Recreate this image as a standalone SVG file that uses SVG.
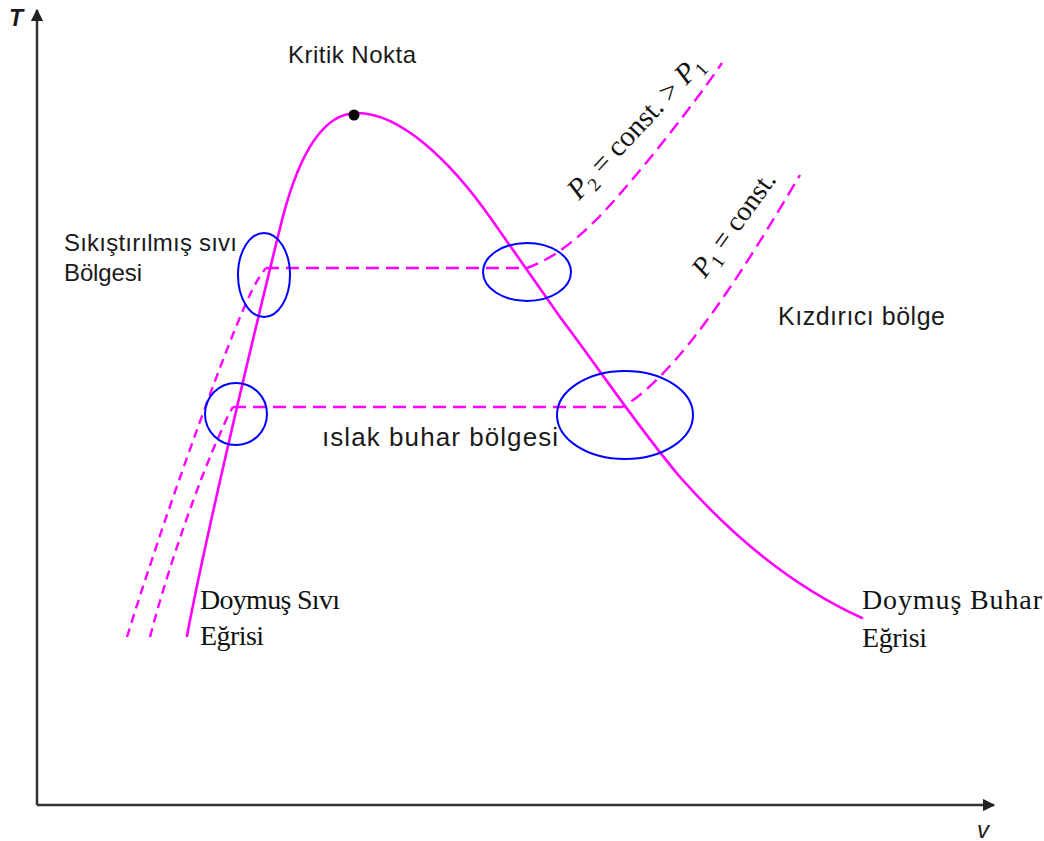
<svg xmlns="http://www.w3.org/2000/svg" width="1044" height="841" viewBox="0 0 1044 841">
<style>
.axis{stroke:#333;stroke-width:2.5;fill:none}
.sat{stroke:#FF00FF;stroke-width:2.6;fill:none;stroke-linecap:round}
.iso{stroke:#FF00FF;stroke-width:2.4;fill:none;stroke-dasharray:13 7}
.isoL{stroke:#FF00FF;stroke-width:2.4;fill:none;stroke-dasharray:9 6}
.ell{stroke:#0000FF;stroke-width:2;fill:none}
.sans{font-family:"Liberation Sans",Arial,sans-serif;fill:#1a1a1a}
.serif{font-family:"Liberation Serif","Times New Roman",serif;fill:#111}
</style>
<defs>
<marker id="arr" viewBox="0 0 10 10" refX="9" refY="5" markerWidth="5" markerHeight="5" orient="auto-start-reverse" markerUnits="strokeWidth">
<path d="M0,0 L10,5 L0,10 z" fill="#222"/>
</marker>
</defs>
<rect width="1044" height="841" fill="#fff"/>
<g id="axes">
<path class="axis" d="M37,805 L37,10" marker-end="url(#arr)"/>
<path class="axis" d="M37,805 L994,805" marker-end="url(#arr)"/>
<text class="sans" x="9" y="26" font-size="23" font-style="italic" font-weight="bold" fill="#444">T</text>
<text class="sans" x="977" y="838" font-size="24" font-style="italic" fill="#555">v</text>
</g>
<g id="connectors">
<path id="saturation-dome" class="sat" d="M187,636 C203,550 245,370 282,220 C300,150 325,113 357,113 C400,113 450,160 492,220 L560,317 C600,370 640,430 680,477 C740,545 800,590 862,618"/>
<path id="p2-liquid" class="isoL" d="M127,637 C160,530 212,385 238,322 C248,298 256,280 266,268"/>
<path id="p2-iso" class="iso" d="M266,268 L527,268 C555,258 578,238 598,218 C630,185 690,110 722,63"/>
<path id="p1-liquid" class="isoL" d="M150,637 C170,560 200,480 215,445 C222,430 227,416 233,407"/>
<path id="p1-iso" class="iso" d="M233,407 L622,407 C645,395 672,365 692,340 C735,285 770,225 800,175"/>
</g>
<g id="critical-point">
<circle cx="354" cy="115" r="5.5" fill="#000"/>
<text class="sans" x="288" y="63" font-size="24" textLength="128">Kritik Nokta</text>
</g>
<g id="ellipse-1"><ellipse class="ell" cx="264" cy="275" rx="26" ry="42"/></g>
<g id="ellipse-2"><ellipse class="ell" cx="236" cy="414" rx="31" ry="31"/></g>
<g id="ellipse-3"><ellipse class="ell" cx="527" cy="272" rx="44" ry="29"/></g>
<g id="ellipse-4"><ellipse class="ell" cx="625" cy="415" rx="68" ry="44"/></g>
<g id="label-compressed">
<text class="sans" x="64" y="251" font-size="24" textLength="173">Sıkıştırılmış sıvı</text>
<text class="sans" x="64" y="281" font-size="24" textLength="78">Bölgesi</text>
</g>
<g id="label-superheated">
<text class="sans" x="778" y="325" font-size="25" textLength="167">Kızdırıcı bölge</text>
</g>
<g id="label-wet">
<text class="sans" x="322" y="446" font-size="26" textLength="236">ıslak buhar bölgesi</text>
</g>
<g id="label-sat-liquid">
<text class="serif" x="200" y="609" font-size="28" textLength="140">Doymuş Sıvı</text>
<text class="serif" x="200" y="645" font-size="28" textLength="64">Eğrisi</text>
</g>
<g id="label-sat-vapor">
<text class="serif" x="862" y="609" font-size="28" textLength="180">Doymuş Buhar</text>
<text class="serif" x="862" y="647" font-size="28" textLength="65">Eğrisi</text>
</g>
<g id="label-p2">
<text class="serif" font-size="29" fill="#333" transform="translate(579,201) rotate(-47)"><tspan font-style="italic">P</tspan><tspan font-size="19" dy="6">2</tspan><tspan dy="-6"> = const. &gt; </tspan><tspan font-style="italic">P</tspan><tspan font-size="19" dy="6">1</tspan></text>
</g>
<g id="label-p1">
<text class="serif" font-size="28" fill="#333" transform="translate(705,279) rotate(-54)"><tspan font-style="italic">P</tspan><tspan font-size="19" dy="6">1</tspan><tspan dy="-6"> = const.</tspan></text>
</g>
</svg>
